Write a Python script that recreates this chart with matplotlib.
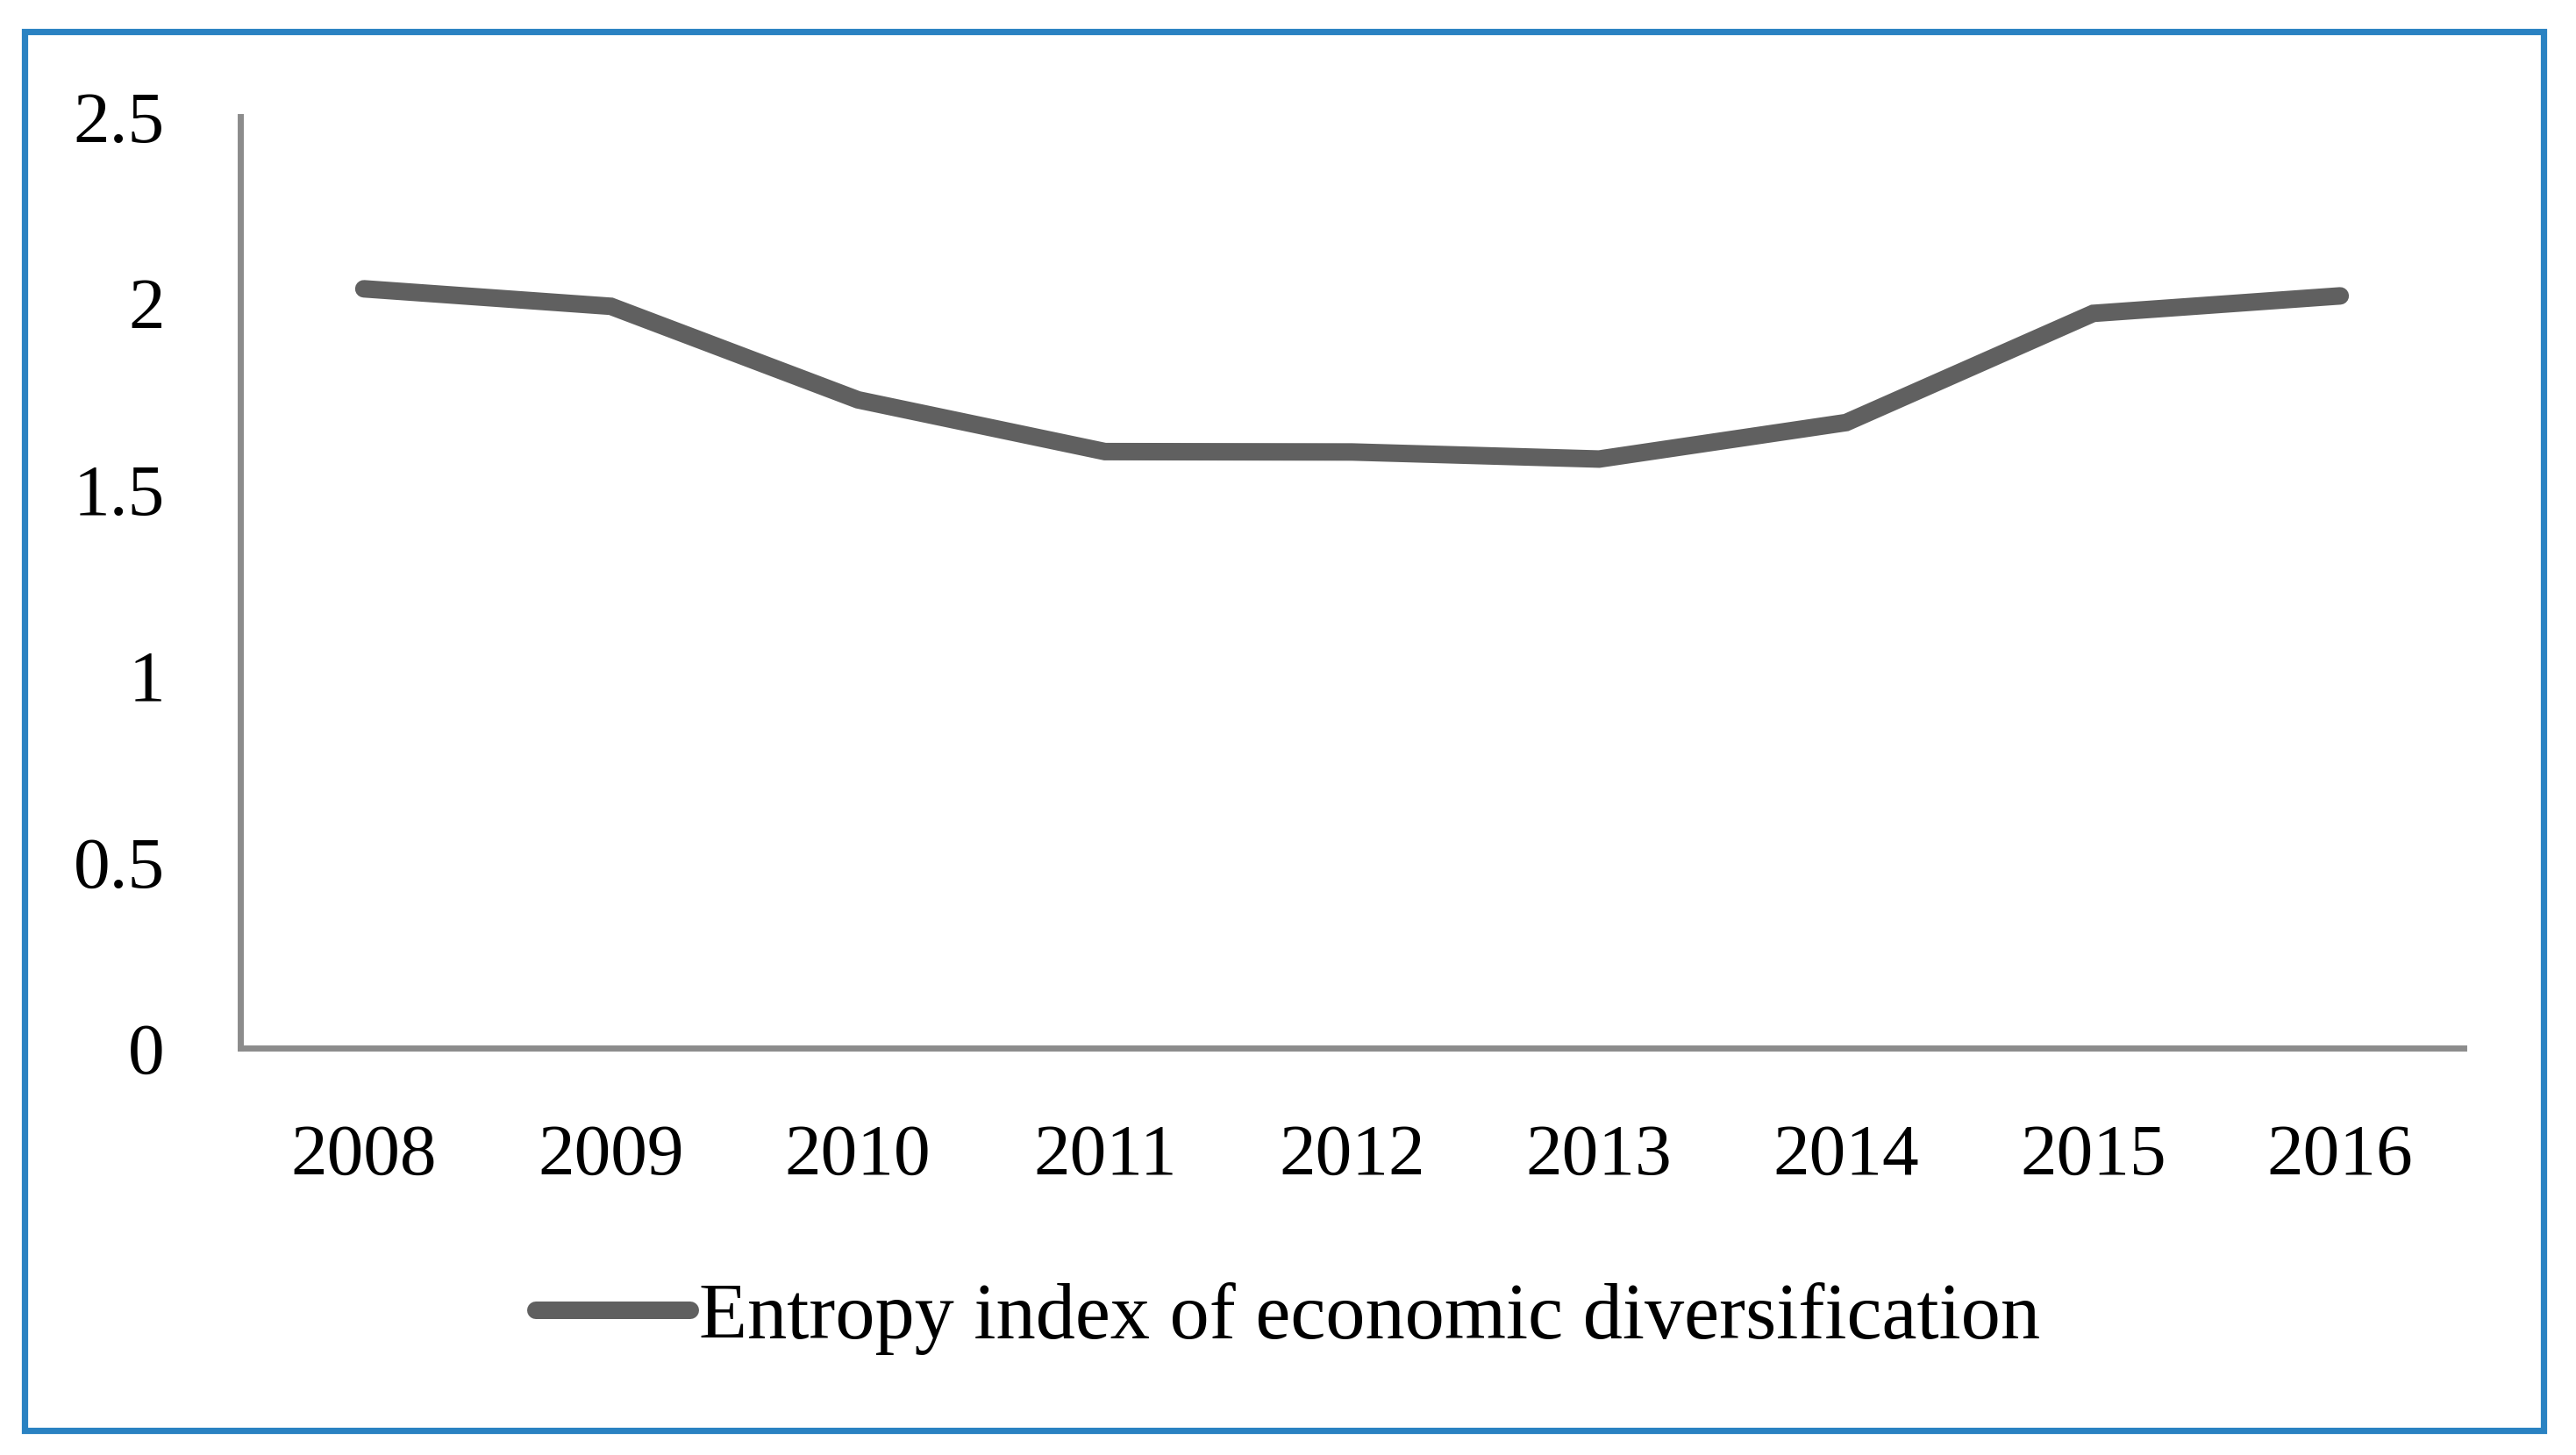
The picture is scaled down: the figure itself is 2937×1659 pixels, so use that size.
import matplotlib
matplotlib.use("Agg")
import matplotlib.pyplot as plt
from matplotlib.patches import Rectangle

# Data
years = ["2008", "2009", "2010", "2011", "2012", "2013", "2014", "2015", "2016"]
entropy = [2.038, 1.991, 1.740, 1.601, 1.600, 1.581, 1.679, 1.972, 2.019]
y_ticks = [0, 0.5, 1, 1.5, 2, 2.5]
y_labels = ["0", "0.5", "1", "1.5", "2", "2.5"]

LINE_COL = "#606060"
AXIS_COL = "#8c8c8c"
BORDER_COL = "#2a82c2"

plt.rcParams['font.family'] = ['Liberation Serif', 'DejaVu Serif']

fig = plt.figure(figsize=(14.685, 8.295), dpi=200)
ax = fig.add_axes([0.0933, 0.2797, 0.8631, 0.6401])

x = list(range(len(years)))
ax.plot(x, entropy, color=LINE_COL, lw=7.2, solid_capstyle='round',
        solid_joinstyle='miter', label="Entropy index of economic diversification")

ax.set_xlim(-0.5, len(years) - 0.5)
ax.set_ylim(0, 2.5)
ax.set_xticks(x)
ax.set_xticklabels(years)
ax.set_yticks(y_ticks)
ax.set_yticklabels(y_labels)
ax.tick_params(axis='both', length=0, labelsize=30, pad=31)

for side in ['top', 'right']:
    ax.spines[side].set_visible(False)
for side in ['left', 'bottom']:
    ax.spines[side].set_color(AXIS_COL)
    ax.spines[side].set_linewidth(2.5)

leg = fig.legend(loc='center', bbox_to_anchor=(0.5, 0.094), frameon=False,
                 fontsize=32.5, handlelength=1.95, handletextpad=0.12)

# Blue frame around the figure
fig.patches.append(Rectangle((28 / 2937, 1 - 1631 / 1659), (2900 - 28) / 2937,
                             (1631 - 36) / 1659, transform=fig.transFigure,
                             fill=False, edgecolor=BORDER_COL, lw=2.6))

plt.savefig("out.png", dpi=200)
plt.close()
